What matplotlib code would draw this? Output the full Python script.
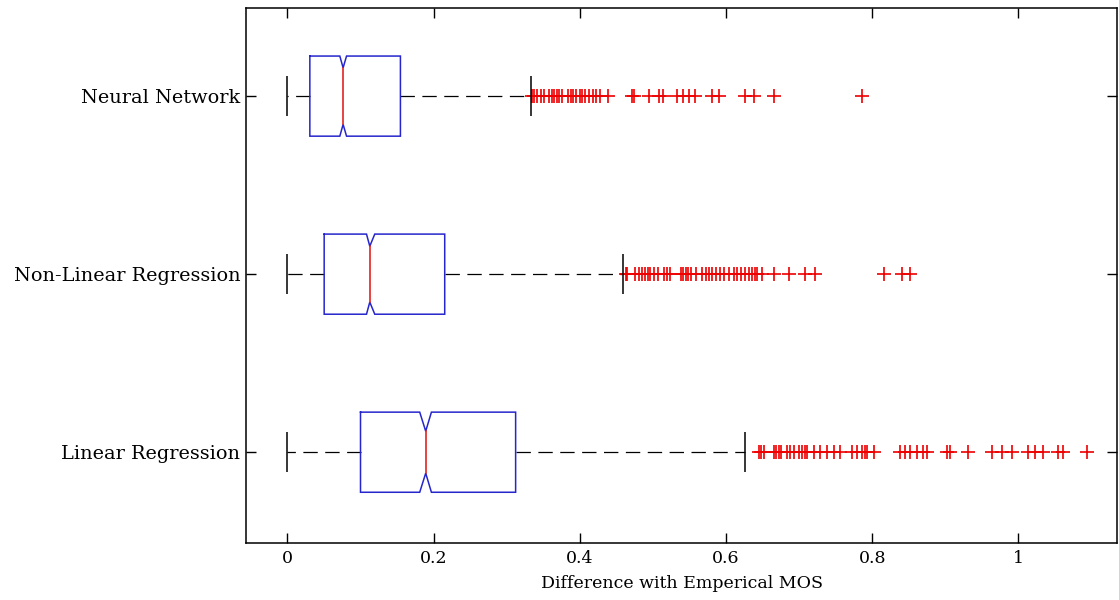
import matplotlib
matplotlib.use("Agg")
import matplotlib.pyplot as plt

# Methods, bottom to top
methods = ["Linear Regression", "Non-Linear Regression", "Neural Network"]

# Box statistics of the absolute difference with the empirical MOS
q1 = [0.100, 0.0503, 0.0307]
medians = [0.1892, 0.1127, 0.0762]
q3 = [0.3122, 0.2152, 0.1546]
whisker_low = [0.0, 0.0, 0.0]
whisker_high = [0.626, 0.4587, 0.3336]
notch_low = [0.181, 0.1082, 0.0717]
notch_high = [0.197, 0.1195, 0.0809]

# Outliers beyond the upper whisker
fliers_linear = [0.6448, 0.6485, 0.6526, 0.6653, 0.6685, 0.6721, 0.6758, 0.6835,
                 0.688, 0.6926, 0.6995, 0.704, 0.7077, 0.7108, 0.72, 0.7291,
                 0.7381, 0.7473, 0.7564, 0.7723, 0.7791, 0.786, 0.7906, 0.793,
                 0.8019, 0.8383, 0.845, 0.852, 0.861, 0.870, 0.8748, 0.902,
                 0.9066, 0.9317, 0.9636, 0.977, 0.991, 1.0137, 1.0228, 1.034,
                 1.0546, 1.0615, 1.0933]
fliers_nonlinear = [0.4627, 0.464, 0.4754, 0.4809, 0.4854, 0.489, 0.4928, 0.4963,
                    0.5014, 0.507, 0.515, 0.5196, 0.524, 0.5378, 0.541, 0.5446,
                    0.5478, 0.5515, 0.559, 0.5674, 0.572, 0.5765, 0.581, 0.5865,
                    0.5915, 0.597, 0.6038, 0.6107, 0.615, 0.621, 0.6266, 0.632,
                    0.6357, 0.6393, 0.6425, 0.649, 0.665, 0.686, 0.708, 0.722,
                    0.8156, 0.8406, 0.852]
fliers_neural = [0.3343, 0.3374, 0.342, 0.3466, 0.3511, 0.358, 0.3616, 0.3652,
                 0.3689, 0.3716, 0.376, 0.3843, 0.3875, 0.3907, 0.3944, 0.3998,
                 0.4034, 0.4071, 0.4126, 0.418, 0.4226, 0.4272, 0.439, 0.4709,
                 0.474, 0.4945, 0.5082, 0.5137, 0.533, 0.541, 0.549, 0.558,
                 0.581, 0.590, 0.6266, 0.638, 0.665, 0.786]
fliers = [fliers_linear, fliers_nonlinear, fliers_neural]

positions = [1, 2, 3]
box_width = 0.45
cap_length = 0.225
notch_depth = [0.107, 0.068, 0.066]

BOX_BLUE = "#2626cc"
MED_RED = "#e01010"

stats = []
for i in range(len(methods)):
    stats.append(dict(label=methods[i], q1=q1[i], med=medians[i], q3=q3[i],
                      whislo=whisker_low[i], whishi=whisker_high[i],
                      fliers=fliers[i]))

plt.rcParams["font.family"] = ["DejaVu Serif"]
fig = plt.figure(figsize=(11.19, 6.0), dpi=100)
ax = fig.add_axes([0.2198, 0.095, 0.7785, 0.8917])

# whiskers and outliers; the notched boxes are outlined below
ax.bxp(stats, positions=positions, widths=box_width, vert=False,
       showbox=False, showcaps=False,
       medianprops=dict(linestyle="none"),
       whiskerprops=dict(color="black", linewidth=0.9, linestyle=(0, (11.5, 6.0))),
       flierprops=dict(marker="+", markeredgecolor="#ee0000", markersize=10,
                       markeredgewidth=1.2, linestyle="none"))

# notched boxes and medians
for pos, a, lo, m, hi, b, d in zip(positions, q1, notch_low, medians,
                                   notch_high, q3, notch_depth):
    top = pos + box_width / 2
    bot = pos - box_width / 2
    xs = [a, lo, m, hi, b, b, hi, m, lo, a, a]
    ys = [top, top, top - d, top, top, bot, bot, bot + d, bot, bot, top]
    ax.plot(xs, ys, color=BOX_BLUE, linewidth=1.1, solid_joinstyle="miter")
    ax.plot([m, m], [bot + d, top - d], color=MED_RED, linewidth=1.1)

# whisker end caps
for pos, lo, hi in zip(positions, whisker_low, whisker_high):
    ax.vlines([lo, hi], pos - cap_length / 2, pos + cap_length / 2,
              colors="black", linewidth=1.1)

ax.set_xlim(-0.0567, 1.135)
ax.set_ylim(0.49, 3.495)
ax.set_xticks([0, 0.2, 0.4, 0.6, 0.8, 1.0])
ax.set_xticklabels(["0", "0.2", "0.4", "0.6", "0.8", "1"])
ax.set_yticks(positions)
ax.set_yticklabels(methods)
ax.tick_params(direction="in", length=7, width=1.0, top=True, right=True,
               labelsize=12.5, colors="black", pad=5)
ax.tick_params(axis="y", labelsize=13.9, pad=4)
ax.set_xlabel("Difference with Emperical MOS", fontsize=12.5, labelpad=6)
for s in ax.spines.values():
    s.set_linewidth(1.1)
    s.set_color("black")

fig.savefig("out.png", dpi=100, facecolor="white")
